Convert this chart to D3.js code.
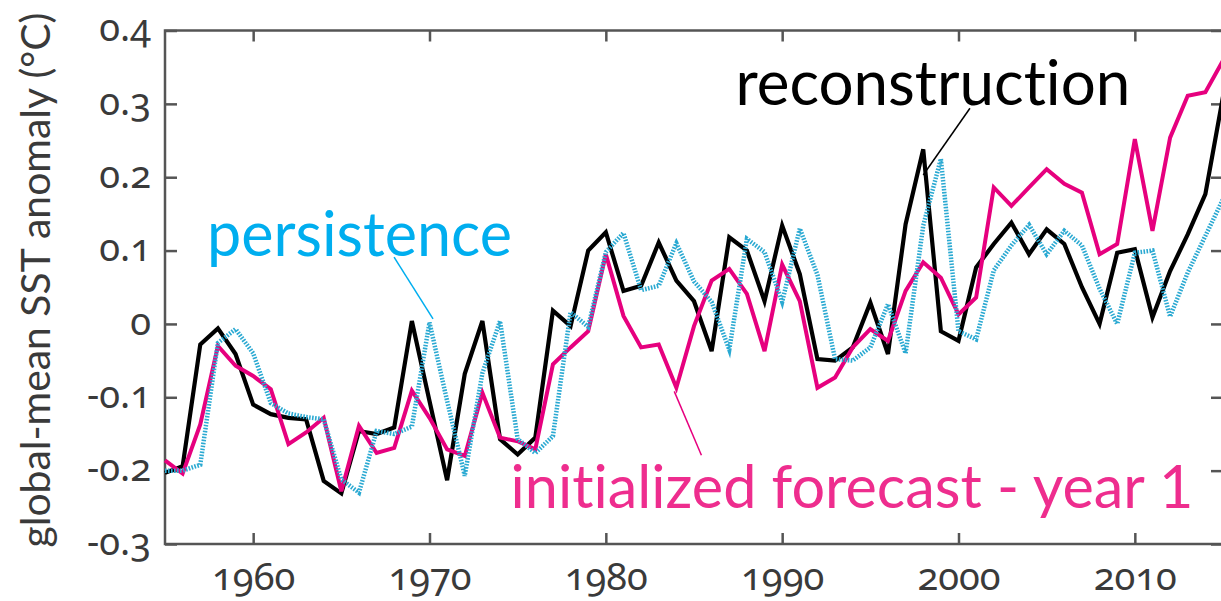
<!DOCTYPE html>
<html><head><meta charset="utf-8">
<script src="https://cdn.jsdelivr.net/npm/d3@7"></script>
<style>body{margin:0;background:#fff} svg{display:block;font-family:Lato,"Open Sans",sans-serif;font-variant-ligatures:none}</style>
</head><body><svg width="1221" height="601"></svg>
<script>
const years = d3.range(1955, 2016);
const reconstruction = [-0.203,-0.194,-0.028,-0.006,-0.041,-0.110,-0.123,-0.128,-0.130,-0.214,
  -0.231,-0.146,-0.150,-0.141,0.004,-0.105,-0.213,-0.068,0.004,-0.157,
  -0.178,-0.155,0.018,-0.003,0.100,0.125,0.045,0.052,0.111,0.059,
  0.031,-0.037,0.118,0.100,0.031,0.134,0.068,-0.048,-0.050,-0.032,
  0.029,-0.041,0.136,0.238,-0.010,-0.023,0.077,0.109,0.138,0.095,
  0.129,0.109,0.050,0.000,0.097,0.102,0.009,0.072,0.122,0.177,0.310];
const persistence = [-0.200,-0.200,-0.192,-0.026,-0.007,-0.040,-0.108,-0.122,-0.127,-0.130,
  -0.212,-0.230,-0.146,-0.150,-0.140,0.002,-0.105,-0.207,-0.067,0.004,
  -0.157,-0.176,-0.153,0.016,-0.004,0.098,0.124,0.046,0.052,0.110,
  0.058,0.030,-0.035,0.116,0.098,0.030,0.130,0.067,-0.048,-0.050,
  -0.032,0.027,-0.040,0.134,0.225,-0.010,-0.021,0.073,0.107,0.135,
  0.095,0.127,0.107,0.048,0.000,0.097,0.100,0.010,0.070,0.120,0.170];
const initialized = [-0.186,-0.204,-0.137,-0.030,-0.057,-0.071,-0.089,-0.164,-0.148,-0.128,
  -0.228,-0.139,-0.176,-0.169,-0.091,-0.128,-0.171,-0.180,-0.094,-0.155,
  -0.160,-0.171,-0.055,-0.032,-0.010,0.095,0.011,-0.032,-0.028,-0.087,
  -0.003,0.059,0.075,0.041,-0.037,0.081,0.031,-0.087,-0.073,-0.032,
  -0.007,-0.023,0.045,0.084,0.063,0.013,0.036,0.186,0.161,0.186,
  0.211,0.191,0.179,0.095,0.109,0.252,0.127,0.254,0.311,0.316,0.359];
const xTicks = [1960,1970,1980,1990,2000,2010];
const yTicks = [-0.3,-0.2,-0.1,0,0.1,0.2,0.3,0.4];
const yTitle = "global-mean SST anomaly (°C)";
const labels = [
  {text:"persistence", color:"#00AEEF", x:1957.38, y:0.092, len:305,
   lead:[[1967.99,0.091],[1970.2,0.007]], leadColor:"#00AEEF"},
  {text:"reconstruction", color:"#000000", x:1987.35, y:0.298, len:395,
   lead:[[2000.65,0.294],[1998.0,0.203]], leadColor:"#000000"},
  {text:"initialized forecast - year 1", color:"#EE2D8E", x:1974.6, y:-0.251, len:683,
   lead:[[1983.88,-0.092],[1985.42,-0.179]], leadColor:"#E6007E"}
];

const svg = d3.select("svg");
const x = d3.scaleLinear().domain([1955, 2015]).range([165, 1223]);
const y = d3.scaleLinear().domain([-0.3, 0.4]).range([544, 30.5]);
const tickColor = "#555";

// frame
svg.append("rect").attr("x", x(1955)).attr("y", y(0.4))
  .attr("width", x(2015)-x(1955)).attr("height", y(-0.3)-y(0.4))
  .attr("fill","none").attr("stroke", tickColor).attr("stroke-width", 2.5);

function styleAxis(g){
  g.select(".domain").remove();
  g.selectAll(".tick line").attr("stroke", tickColor).attr("stroke-width", 2.5);
  g.selectAll(".tick text").attr("fill","#3a3a3a")
    .style("font-size","38px").style("font-family","'Noto Sans', Lato, sans-serif")
    .style("font-variant-numeric","oldstyle-nums")
    .style("font-feature-settings","'onum' 1");
}
svg.append("g").attr("transform",`translate(0,${y(-0.3)})`)
  .call(d3.axisBottom(x).tickValues(xTicks).tickSize(-11).tickFormat(d3.format("d")))
  .call(styleAxis)
  .call(g=>g.selectAll(".tick text").attr("y",46).attr("dy",0));
svg.append("g").attr("transform",`translate(0,${y(0.4)})`)
  .call(d3.axisTop(x).tickValues(xTicks).tickSize(-11).tickFormat(""))
  .call(styleAxis);
svg.append("g").attr("transform",`translate(${x(1955)},0)`)
  .call(d3.axisLeft(y).tickValues(yTicks).tickSize(-12)
    .tickFormat(d=> d===0 ? "0" : d3.format(".1f")(d).replace("\u2212","-")))
  .call(styleAxis)
  .call(g=>g.selectAll(".tick text").attr("x",-14).attr("dy","0.27em"));
svg.append("g").attr("transform",`translate(${x(2015)},0)`)
  .call(d3.axisRight(y).tickValues(yTicks).tickSize(-12).tickFormat(""))
  .call(styleAxis);

// y title
const yt = svg.append("text")
  .attr("transform",`translate(50,${(12+548)/2}) rotate(-90)`)
  .attr("text-anchor","middle")
  .attr("fill","#3a3a3a").style("font-size","32px")
  .text(yTitle);
{
  const w = yt.node().getComputedTextLength();
  yt.style("font-size", (32*535/w)+"px");
}

const line = d3.line().x((d,i)=>x(years[i])).y(d=>y(d));
svg.append("path").datum(reconstruction).attr("d",line)
  .attr("fill","none").attr("stroke","#000").attr("stroke-width",4.2).attr("stroke-linejoin","miter");
svg.append("path").datum(initialized).attr("d",line)
  .attr("fill","none").attr("stroke","#E6007E").attr("stroke-width",4).attr("stroke-linejoin","miter");
svg.append("path").datum(persistence).attr("d",line)
  .attr("fill","none").attr("stroke","#2AA9D2").attr("stroke-width",4.5)
  .attr("stroke-dasharray","1.6,1.4");

// annotations
labels.forEach(l=>{
  svg.append("line")
    .attr("x1",x(l.lead[0][0])).attr("y1",y(l.lead[0][1]))
    .attr("x2",x(l.lead[1][0])).attr("y2",y(l.lead[1][1]))
    .attr("stroke",l.leadColor).attr("stroke-width",1.5);
  const t = svg.append("text").attr("x",x(l.x)).attr("y",y(l.y))
    .attr("fill",l.color).style("font-size","62px")
    .text(l.text);
  const w = t.node().getComputedTextLength();
  t.style("font-size", (62*l.len/w)+"px");
});
</script></body></html>
